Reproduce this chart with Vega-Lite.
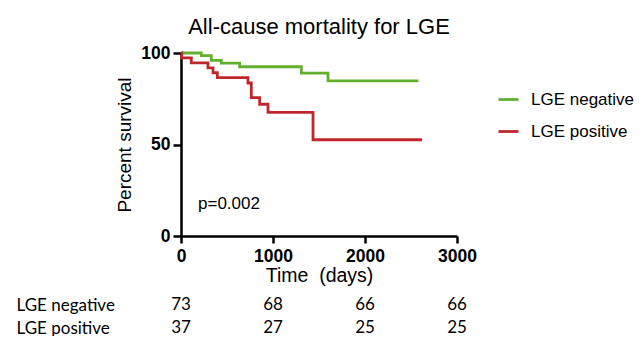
{
  "$schema": "https://vega.github.io/schema/vega-lite/v6.json",
  "padding": {"left": 16, "top": 16, "right": 0, "bottom": 0},
  "background": "white",
  "spacing": 11,
  "config": {
    "view": {"stroke": null},
    "font": "Liberation Sans"
  },
  "datasets": {
    "km": [
      {"group": "LGE negative", "time": 0, "survival": 100},
      {"group": "LGE negative", "time": 221, "survival": 98.6},
      {"group": "LGE negative", "time": 329, "survival": 96.0},
      {"group": "LGE negative", "time": 438, "survival": 94.5},
      {"group": "LGE negative", "time": 638, "survival": 92.5},
      {"group": "LGE negative", "time": 1308, "survival": 89.0},
      {"group": "LGE negative", "time": 1598, "survival": 84.8},
      {"group": "LGE negative", "time": 2580, "survival": 84.8},
      {"group": "LGE positive", "time": 0, "survival": 100},
      {"group": "LGE positive", "time": 8, "survival": 97.3},
      {"group": "LGE positive", "time": 112, "survival": 94.6},
      {"group": "LGE positive", "time": 293, "survival": 91.9},
      {"group": "LGE positive", "time": 348, "survival": 89.2},
      {"group": "LGE positive", "time": 395, "survival": 86.5},
      {"group": "LGE positive", "time": 728, "survival": 83.6},
      {"group": "LGE positive", "time": 764, "survival": 75.6},
      {"group": "LGE positive", "time": 855, "survival": 72.0},
      {"group": "LGE positive", "time": 946, "survival": 67.6},
      {"group": "LGE positive", "time": 1435, "survival": 52.6},
      {"group": "LGE positive", "time": 2620, "survival": 52.6}
    ],
    "note": [
      {"time": 185, "survival": 17.5, "label": "p=0.002"}
    ],
    "risk": [
      {"group": "LGE negative", "time": 0, "n": 73},
      {"group": "LGE negative", "time": 1000, "n": 68},
      {"group": "LGE negative", "time": 2000, "n": 66},
      {"group": "LGE negative", "time": 3000, "n": 66},
      {"group": "LGE positive", "time": 0, "n": 37},
      {"group": "LGE positive", "time": 1000, "n": 27},
      {"group": "LGE positive", "time": 2000, "n": 25},
      {"group": "LGE positive", "time": 3000, "n": 25}
    ]
  },
  "vconcat": [
    {
      "width": 276,
      "height": 183,
      "title": {
        "text": "All-cause mortality for LGE",
        "anchor": "middle",
        "frame": "group",
        "font": "Liberation Sans",
        "fontSize": 22,
        "fontWeight": "normal",
        "color": "black",
        "offset": 5
      },
      "layer": [
        {
          "data": {"name": "km"},
          "mark": {"type": "line", "interpolate": "step-after", "strokeWidth": 2.8},
          "encoding": {
            "x": {
              "field": "time", "type": "quantitative",
              "scale": {"domain": [0, 3000], "nice": false, "zero": false},
              "axis": {
                "title": "Time\u00a0\u00a0(days)",
                "values": [0, 1000, 2000, 3000],
                "format": "d",
                "labelFlush": false,
                "grid": false,
                "domainColor": "black", "domainWidth": 2.5,
                "tickColor": "black", "tickWidth": 2.5, "tickSize": 7,
                "labelFont": "Liberation Sans", "labelFontSize": 17.5, "labelFontWeight": "bold",
                "labelColor": "black", "labelPadding": 4,
                "titleFont": "Liberation Sans", "titleFontSize": 19.5, "titleFontWeight": "normal",
                "titleColor": "black", "titlePadding": 2
              }
            },
            "y": {
              "field": "survival", "type": "quantitative",
              "scale": {"domain": [0, 100], "nice": false},
              "axis": {
                "title": "Percent survival",
                "values": [0, 50, 100],
                "labelFlush": false,
                "grid": false,
                "domainColor": "black", "domainWidth": 2.5,
                "tickColor": "black", "tickWidth": 2.5, "tickSize": 8,
                "labelFont": "Liberation Sans", "labelFontSize": 17.5, "labelFontWeight": "bold",
                "labelColor": "black", "labelPadding": 3,
                "titleFont": "Liberation Sans", "titleFontSize": 19, "titleFontWeight": "normal",
                "titleColor": "black", "titlePadding": 6
              }
            },
            "color": {
              "field": "group", "type": "nominal",
              "scale": {"domain": ["LGE negative", "LGE positive"], "range": ["#62b02e", "#c0272d"]},
              "legend": {
                "title": null,
                "orient": "none",
                "legendX": 316,
                "legendY": 35,
                "symbolType": "stroke",
                "symbolSize": 400,
                "symbolStrokeWidth": 2.8,
                "labelFont": "Liberation Sans",
                "labelFontSize": 17,
                "labelColor": "black",
                "labelOffset": 11,
                "rowPadding": 12
              }
            }
          }
        },
        {
          "data": {"name": "note"},
          "mark": {"type": "text", "align": "left", "baseline": "middle", "font": "Liberation Sans", "fontSize": 17, "color": "black"},
          "encoding": {
            "x": {"field": "time", "type": "quantitative"},
            "y": {"field": "survival", "type": "quantitative"},
            "text": {"field": "label"}
          }
        }
      ]
    },
    {
      "width": 276,
      "height": 23,
      "data": {"name": "risk"},
      "mark": {"type": "text", "align": "center", "baseline": "middle", "font": "Lato", "fontSize": 17, "color": "black"},
      "encoding": {
        "x": {
          "field": "time", "type": "quantitative",
          "scale": {"domain": [0, 3000], "nice": false, "zero": false},
          "axis": null
        },
        "y": {
          "field": "group", "type": "nominal",
          "scale": {"type": "point", "padding": 0, "domain": ["LGE negative", "LGE positive"]},
          "axis": {
            "title": null,
            "domain": false,
            "ticks": false,
            "tickSize": 0,
            "labelAlign": "left",
            "labelBaseline": "middle",
            "labelPadding": 165,
            "labelFont": "Lato",
            "labelFontSize": 17,
            "labelColor": "black"
          }
        },
        "text": {"field": "n", "type": "quantitative"}
      }
    }
  ]
}
